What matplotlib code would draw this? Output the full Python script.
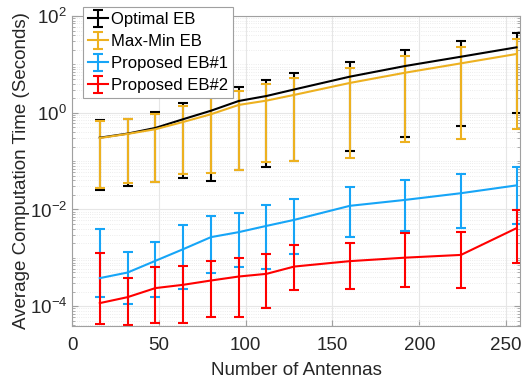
import numpy as np
import matplotlib
matplotlib.use("Agg")
import matplotlib.pyplot as plt
from matplotlib.ticker import LogLocator, NullFormatter, FixedLocator

plt.rcParams['font.family'] = ['Liberation Sans', 'DejaVu Sans']

antennas = [16, 32, 48, 64, 80, 96, 112, 128, 160, 192, 224, 256]

# Optimal EB
opt_mean = [0.305, 0.37, 0.485, 0.735, 1.10, 1.75, 2.22, 3.03, 5.57, 9.27, 14.4, 22.5]
opt_low = [0.0254, 0.031, 0.0366, 0.0456, 0.0395, 0.0658, 0.075, 0.102, 0.165, 0.312, 0.54, 1.0]
opt_high = [0.70, 0.73, 1.05, 1.57, 2.2, 3.36, 4.76, 6.5, 11.0, 19.8, 30.9, 45.2]

# Max-Min EB
mm_mean = [0.30, 0.365, 0.456, 0.645, 0.93, 1.45, 1.78, 2.34, 4.13, 6.74, 10.5, 16.4]
mm_low = [0.0275, 0.035, 0.0366, 0.055, 0.058, 0.0658, 0.098, 0.102, 0.115, 0.249, 0.283, 0.47]
mm_high = [0.69, 0.73, 0.94, 1.38, 2.0, 2.86, 3.94, 5.2, 8.3, 14.9, 23.2, 34.0]

# Proposed EB#1
p1_mean = [3.81e-4, 4.97e-4, 8.67e-4, 1.51e-3, 2.68e-3, 3.40e-3, 4.58e-3, 6.10e-3, 0.0119, 0.0158, 0.0217, 0.0315]
p1_low = [1.58e-4, 1.10e-4, 1.58e-4, 2.32e-4, 4.83e-4, 6.43e-4, 6.01e-4, 1.19e-3, 2.72e-3, 3.61e-3, 4.11e-3, 4.97e-3]
p1_high = [3.92e-3, 1.35e-3, 2.17e-3, 4.74e-3, 7.38e-3, 8.63e-3, 0.01245, 0.0163, 0.0297, 0.0409, 0.0544, 0.0769]

# Proposed EB#2
p2_mean = [1.16e-4, 1.54e-4, 2.37e-4, 2.77e-4, 3.40e-4, 4.11e-4, 4.67e-4, 6.61e-4, 8.55e-4, 1.01e-3, 1.15e-3, 4.11e-3]
p2_low = [4.27e-5, 4.0e-5, 4.6e-5, 4.48e-5, 5.85e-5, 5.96e-5, 9.27e-5, 2.18e-4, 2.32e-4, 2.48e-4, 2.37e-4, 8.0e-4]
p2_high = [1.29e-3, 3.92e-4, 6.43e-4, 6.84e-4, 8.67e-4, 9.86e-4, 1.19e-3, 1.86e-3, 2.07e-3, 3.24e-3, 3.49e-3, 9.8e-3]

series = [
    ("Optimal EB", opt_mean, opt_low, opt_high, "#000000"),
    ("Max-Min EB", mm_mean, mm_low, mm_high, "#EDB120"),
    ("Proposed EB#1", p1_mean, p1_low, p1_high, "#16A5F7"),
    ("Proposed EB#2", p2_mean, p2_low, p2_high, "#FF0000"),
]

fig = plt.figure(figsize=(5.23, 3.84), dpi=100)
ax = fig.add_axes([72 / 523, 1 - 326 / 384, 448 / 523, 310 / 384])

for name, m, lo, hi, c in series:
    m = np.array(m)
    err = [m - np.array(lo), np.array(hi) - m]
    ax.errorbar(antennas, m, yerr=err, color=c, lw=1.5, elinewidth=1.5,
                capsize=3.6, capthick=1.5, label=name)

ax.set_yscale("log")
ax.set_xlim(0, 258)
ax.set_ylim(3.9e-5, 100)
ax.set_xticks([0, 50, 100, 150, 200, 250])
ax.yaxis.set_major_locator(FixedLocator([1e-4, 1e-2, 1, 100]))
ax.yaxis.set_minor_locator(LogLocator(base=10, subs=np.arange(1, 10), numticks=30))
ax.yaxis.set_minor_formatter(NullFormatter())

ax.grid(True, which="major", color="#E6E6E6", lw=0.8)
ax.grid(True, which="minor", axis="y", color="#E6E6E6", lw=0.6, ls=":")
ax.set_axisbelow(True)

for s in ax.spines.values():
    s.set_color("#A0A0A0")
ax.tick_params(which="both", direction="in", colors="#A0A0A0", labelcolor="#262626",
               labelsize=13.5, top=False, right=True)
ax.tick_params(axis="x", pad=8)
ax.tick_params(which="minor", length=2)
ax.tick_params(which="major", length=4)

ax.set_xlabel("Number of Antennas", fontsize=13.5, color="#262626", labelpad=6)
ax.set_ylabel("Average Computation Time (Seconds)", fontsize=13.5, color="#262626", labelpad=0)

leg = ax.legend(loc="upper left", bbox_to_anchor=(83 / 523, 1 - 7 / 384),
                bbox_transform=fig.transFigure, fontsize=12, frameon=True,
                fancybox=False, borderpad=0.3, labelspacing=0.42,
                handlelength=1.2, handletextpad=0.2, borderaxespad=0)
leg.get_frame().set_edgecolor("#A0A0A0")
leg.get_frame().set_linewidth(0.8)
leg.get_frame().set_alpha(1)

fig.savefig("out.png", dpi=100)
